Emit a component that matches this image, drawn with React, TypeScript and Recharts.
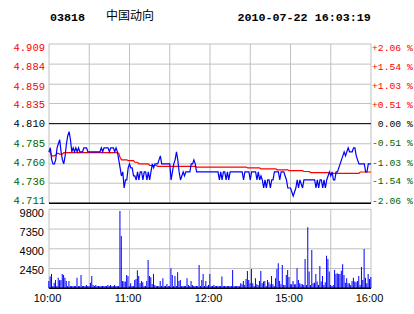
import { ComposedChart, Line, Bar, XAxis, YAxis, CartesianGrid, ReferenceLine } from 'recharts';

// 03818 中国动向, 2010-07-22, one point per trading minute (10:00-12:30, 14:30-16:00)
const prevClose = 4.81;

const price = [
  4.775, 4.78, 4.765, 4.76, 4.76, 4.765, 4.78, 4.785, 4.79, 4.775, 4.765,
  4.76, 4.77, 4.785, 4.795, 4.8, 4.79, 4.775, 4.78, 4.775, 4.78,
  4.775, 4.78, 4.775, 4.775, 4.775, 4.78, 4.78, 4.78, 4.775, 4.775,
  4.775, 4.775, 4.775, 4.775, 4.775, 4.775, 4.775, 4.775, 4.78, 4.775,
  4.78, 4.78, 4.78, 4.78, 4.775, 4.78, 4.78, 4.78, 4.775, 4.78,
  4.775, 4.765, 4.755, 4.745, 4.75, 4.73, 4.74, 4.74, 4.755, 4.76,
  4.755, 4.755, 4.745, 4.745, 4.74, 4.75, 4.74, 4.75, 4.75, 4.74,
  4.75, 4.75, 4.74, 4.75, 4.74, 4.75, 4.76, 4.755, 4.76, 4.76,
  4.76, 4.765, 4.77, 4.76, 4.76, 4.76, 4.76, 4.76, 4.76, 4.76,
  4.74, 4.75, 4.76, 4.765, 4.775, 4.765, 4.75, 4.74, 4.745, 4.75,
  4.745, 4.75, 4.75, 4.75, 4.75, 4.76, 4.76, 4.765, 4.76, 4.75,
  4.75, 4.75, 4.75, 4.75, 4.75, 4.75, 4.75, 4.75, 4.75, 4.75,
  4.75, 4.75, 4.75, 4.75, 4.75, 4.75, 4.74, 4.75, 4.74, 4.75,
  4.75, 4.74, 4.75, 4.74, 4.75, 4.75, 4.75, 4.75, 4.75, 4.75,
  4.75, 4.75, 4.75, 4.75, 4.74, 4.75, 4.75, 4.75, 4.75, 4.74,
  4.75, 4.75, 4.75, 4.75, 4.74, 4.75, 4.74, 4.745, 4.74, 4.73,
  4.74, 4.73, 4.74, 4.74, 4.73, 4.74, 4.74, 4.75, 4.75, 4.75,
  4.75, 4.74, 4.75, 4.75, 4.75, 4.745, 4.74, 4.73, 4.73, 4.73,
  4.725, 4.72, 4.725, 4.73, 4.74, 4.73, 4.74, 4.735, 4.73, 4.74,
  4.74, 4.74, 4.74, 4.74, 4.74, 4.74, 4.74, 4.74, 4.73, 4.74,
  4.73, 4.74, 4.74, 4.73, 4.74, 4.73, 4.74, 4.745, 4.75, 4.745,
  4.75, 4.74, 4.74, 4.75, 4.75, 4.755, 4.76, 4.765, 4.77, 4.775,
  4.77, 4.775, 4.78, 4.775, 4.775, 4.775, 4.78, 4.78, 4.77, 4.765,
  4.76, 4.76, 4.76, 4.76, 4.76, 4.75, 4.75, 4.76, 4.76, 4.76,
];

// average price, as [value, minutes it holds]
const avgRuns: [number, number][] = [
  [4.776, 1], [4.774, 1], [4.770, 3], [4.771, 1], [4.773, 2], [4.772, 3],
  [4.774, 41], [4.773, 1], [4.768, 1], [4.765, 5], [4.764, 5], [4.762, 3],
  [4.760, 8], [4.758, 6], [4.757, 29], [4.756, 38], [4.755, 10], [4.7538, 12],
  [4.7526, 9], [4.7515, 11], [4.7505, 5], [4.7492, 14], [4.7482, 23], [4.7499, 9],
];

const volume = [
  900, 1450, 1780, 300, 700, 1030, 300, 1320, 1000, 1030, 1780,
  1650, 1320, 900, 300, 900, 300, 300, 300, 300, 300,
  1320, 300, 300, 1650, 300, 300, 300, 400, 300, 300,
  700, 1530, 400, 300, 400, 300, 300, 300, 300, 300,
  300, 300, 300, 400, 300, 400, 300, 300, 400, 300,
  300, 300, 9600, 6490, 910, 830, 830, 1650, 1530, 300,
  620, 300, 300, 1030, 1160, 2230, 1530, 620, 910, 750,
  300, 300, 910, 3510, 1530, 1360, 540, 1780, 410, 300,
  300, 300, 910, 300, 1240, 300, 300, 540, 300, 300,
  2480, 1650, 300, 1530, 300, 1980, 910, 1030, 300, 300,
  300, 300, 1240, 410, 300, 910, 410, 300, 300, 300,
  300, 2900, 300, 1030, 1780, 300, 910, 300, 410, 1780,
  290, 290, 410, 290, 290, 290, 290, 290, 1450, 290,
  290, 290, 290, 290, 290, 290, 2270, 290, 290, 290,
  290, 290, 620, 500, 910, 410, 1160, 2150, 1030, 620,
  2400, 620, 290, 1240, 500, 410, 910, 2150, 620, 830,
  910, 290, 1030, 750, 500, 1530, 500, 290, 1240, 2400,
  3100, 910, 500, 2900, 410, 410, 1650, 2270, 1400, 500,
  500, 910, 500, 500, 2480, 1030, 620, 500, 500, 410,
  3640, 410, 7570, 2070, 410, 4750, 620, 700, 1780, 830,
  410, 2770, 830, 1530, 410, 750, 4050, 3640, 2070, 410,
  290, 410, 2270, 1780, 1860, 1780, 1780, 2190, 2980, 1650,
  700, 1240, 620, 620, 410, 910, 1320, 830, 750, 910,
  1530, 410, 2650, 1030, 4880, 1320, 620, 1780, 1160, 1400,
];

const priceLabels = ['4.909', '4.884', '4.859', '4.835', '4.810', '4.785', '4.760', '4.736', '4.711'];
const pctLabels = ['+2.06 %', '+1.54 %', '+1.03 %', '+0.51 %', ' 0.00 %', '-0.51 %', '-1.03 %', '-1.54 %', '-2.06 %'];
const volTicks = [2450, 4900, 7350, 9800];
const gridMinutes = [0, 30, 60, 90, 120, 150, 180, 210, 240];
const timeLabels: Record<number, string> = { 0: '10:00', 60: '11:00', 120: '12:00', 180: '15:00', 240: '16:00' };

const priceTicks = priceLabels.map(Number);
const avg = avgRuns.flatMap(([v, n]) => Array(n).fill(v));
const priceData = price.map((p, i) => ({ t: i, price: p, avg: avg[i] }));
const volData = volume.map((v, i) => ({ t: i, vol: v }));

const RED = '#ff0000';
const GREEN = '#006400';
const GRID = '#c0c0c0';
const MONO = "'Liberation Mono', 'DejaVu Sans Mono', monospace";
const SANS = "'Liberation Sans', Arial, sans-serif";

const tone = (v: number) => (v > prevClose + 1e-6 ? RED : v < prevClose - 1e-6 ? GREEN : '#000');

// labels sit a little inside the grid lines, like the original
const squeeze = (y: number) => 124.2 + (y - 124.2) * 0.9605;

function PriceTick(props: any) {
  const { x, y, payload } = props;
  const i = priceTicks.indexOf(payload.value);
  return (
    <g>
      <text x={x} y={squeeze(y)} dy="0.36em" textAnchor="end" fontFamily={MONO} fontSize={10.5} fill={tone(payload.value)}>
        {priceLabels[i]}
      </text>
      <text x={x + 327} y={squeeze(y)} dy="0.36em" textAnchor="start" fontFamily={MONO} fontSize={9.7}
        fill={tone(payload.value)} style={{ whiteSpace: 'pre' }}>
        {pctLabels[i]}
      </text>
    </g>
  );
}

function VolTick(props: any) {
  const { x, y, payload } = props;
  return (
    <text x={x} y={0.958 * y + 4.2} dy="0.36em" textAnchor="end" fontFamily={SANS} fontSize={11} fill="#000">
      {payload.value}
    </text>
  );
}

function TimeTick(props: any) {
  const { x, y, payload } = props;
  const label = timeLabels[payload.value];
  if (!label) return null;
  return (
    <text x={x - 1.5} y={y} dy={13.6} textAnchor="middle" fontFamily={SANS} fontSize={11} fill="#000">
      {label}
    </text>
  );
}

export default function App() {
  return (
    <div style={{ position: 'absolute', left: 0, top: 0, width: 414, height: 314, background: '#fff', overflow: 'hidden' }}>
      <svg width={414} height={30} style={{ position: 'absolute', left: 0, top: 0 }}>
        <text x={50} y={20.5} fontFamily={MONO} fontWeight="bold" fontSize={11.7} fill="#000">03818</text>
        <text x={106} y={19.7} fontFamily="'Noto Sans CJK SC', sans-serif" fontSize={12} fill="#000">中国动向</text>
        <text x={237.5} y={20.5} fontFamily={MONO} fontWeight="bold" fontSize={11.7} fill="#000">2010-07-22 16:03:19</text>
      </svg>

      <div style={{ position: 'absolute', left: 0, top: 0 }}>
        <ComposedChart width={414} height={210} data={priceData} margin={{ top: 44, right: 43, bottom: 6.7, left: 0 }}>
          <CartesianGrid stroke={GRID} />
          <XAxis dataKey="t" type="number" domain={[0, 240]} ticks={gridMinutes} hide />
          <YAxis domain={[4.711, 4.909]} ticks={priceTicks} interval={0} width={49}
            axisLine={false} tickLine={false} tickSize={0} tickMargin={4} tick={<PriceTick />} />
          <ReferenceLine y={prevClose} stroke="#000" />
          <ReferenceLine y={4.711} stroke="#000" strokeWidth={1.5} />
          <Line dataKey="avg" stroke={RED} strokeWidth={1.2} dot={false} isAnimationActive={false} />
          <Line dataKey="price" stroke="#0000ff" strokeWidth={1.2} dot={false} isAnimationActive={false} />
        </ComposedChart>
      </div>

      <div style={{ position: 'absolute', left: 0, top: 205 }}>
        <ComposedChart width={414} height={109} data={volData} margin={{ top: 4.3, right: 43, bottom: 0, left: 0 }}>
          <CartesianGrid stroke={GRID} />
          <XAxis dataKey="t" type="number" domain={[0, 240]} ticks={gridMinutes} interval={0} height={25.7}
            axisLine={false} tickLine={false} tickSize={0} tickMargin={0} tick={<TimeTick />} />
          <YAxis domain={[0, 9800]} ticks={volTicks} interval={0} width={49}
            axisLine={false} tickLine={false} tickSize={0} tickMargin={5} tick={<VolTick />} />
          <ReferenceLine y={0} stroke="#000" strokeWidth={1.5} />
          <Bar dataKey="vol" fill="#0000ff" barSize={1} isAnimationActive={false} />
        </ComposedChart>
      </div>
    </div>
  );
}
